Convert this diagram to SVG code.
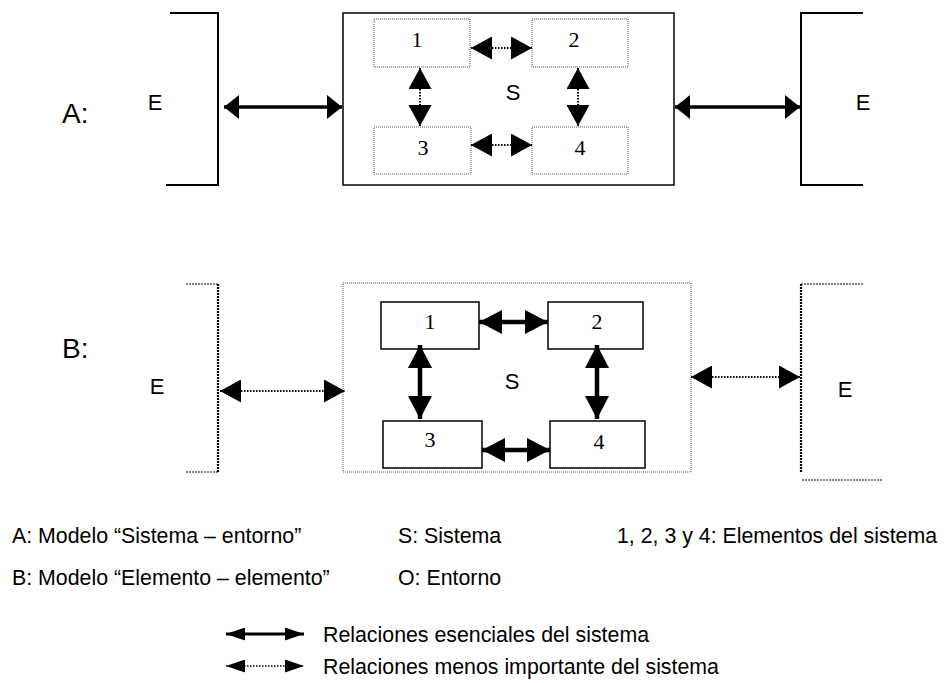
<svg xmlns="http://www.w3.org/2000/svg" width="944" height="683" viewBox="0 0 944 683">
<style>
text{font-family:"Liberation Sans",Arial,sans-serif;fill:#000}
.num{font-family:"Liberation Serif","Times New Roman",serif;font-size:22px;text-anchor:middle}
.lbl{font-size:22px;text-anchor:middle}
.big{font-size:28px}
.cap{font-size:21.33px}
.solid{fill:none;stroke:#000;stroke-width:2}
.thinbox{fill:#fff;stroke:#000;stroke-width:1.5}
.dotbox{fill:#fff;stroke:#555;stroke-width:1;stroke-dasharray:1 1}
.dotbr{fill:none;stroke:#000;stroke-width:2.2;stroke-dasharray:2 1}
.dotbrh{fill:none;stroke:#000;stroke-width:1.2;stroke-dasharray:2 1}
.thick{stroke:#000;stroke-width:3.5;fill:none}
.thick2{stroke:#000;stroke-width:4.5;fill:none}
.thin3{stroke:#000;stroke-width:3;fill:none}
.dots{stroke:#000;stroke-width:2;stroke-dasharray:1.5 1.5;fill:none}
.dots1{stroke:#000;stroke-width:1.5;stroke-dasharray:1.5 1.5;fill:none}
</style>
<defs>
<marker id="hs" markerUnits="userSpaceOnUse" markerWidth="15" markerHeight="24" refX="15" refY="12" orient="auto-start-reverse"><path d="M0,0 L15,12 L0,24 Z" fill="#000"/></marker>
<marker id="hm" markerUnits="userSpaceOnUse" markerWidth="21" markerHeight="23" refX="21" refY="11.5" orient="auto-start-reverse"><path d="M0,0 L21,11.5 L0,23 Z" fill="#000"/></marker>
<marker id="hl" markerUnits="userSpaceOnUse" markerWidth="23" markerHeight="24" refX="23" refY="12" orient="auto-start-reverse"><path d="M0,0 L23,12 L0,24 Z" fill="#000"/></marker>
<marker id="hg" markerUnits="userSpaceOnUse" markerWidth="19" markerHeight="13" refX="19" refY="6.5" orient="auto-start-reverse"><path d="M0,0 L19,6.5 L0,13 Z" fill="#000"/></marker>
</defs>

<text class="big" x="62" y="123">A:</text>
<text class="big" x="62" y="358">B:</text>

<!-- Model A -->
<g id="a-env-left"><path class="solid" d="M170,13 H218 V185 H166"/><text class="lbl" x="155" y="110">E</text></g>
<g id="a-env-right"><path class="solid" d="M863,13 H801 V185 H863"/><text class="lbl" x="863" y="110">E</text></g>
<g id="a-system"><rect class="thinbox" x="343" y="13" width="331" height="172"/><text class="lbl" x="513" y="100">S</text></g>
<g id="a-e1"><rect class="dotbox" x="374" y="19" width="96" height="48"/><text class="num" x="417" y="47">1</text></g>
<g id="a-e2"><rect class="dotbox" x="532" y="19" width="96" height="48"/><text class="num" x="574" y="47">2</text></g>
<g id="a-e3"><rect class="dotbox" x="374" y="127" width="97" height="47"/><text class="num" x="423" y="155">3</text></g>
<g id="a-e4"><rect class="dotbox" x="532" y="127" width="96" height="47"/><text class="num" x="580" y="155">4</text></g>

<!-- Model B -->
<g id="b-env-left"><path class="dotbrh" d="M186,284 H218"/><path class="dotbr" d="M218,284 V472"/><path class="dotbrh" d="M218,472 H186"/><text class="lbl" x="157" y="394">E</text></g>
<g id="b-env-right"><path class="dotbrh" d="M863,284 H801"/><path class="dotbr" d="M801,284 V472"/><path class="dotbrh" d="M802,480 H882"/><text class="lbl" x="845" y="397">E</text></g>
<g id="b-system"><rect class="dotbox" x="343" y="283" width="348" height="189"/><text class="lbl" x="512" y="389">S</text></g>
<g id="b-e1"><rect class="thinbox" x="381" y="302" width="98" height="47"/><text class="num" x="430" y="329">1</text></g>
<g id="b-e2"><rect class="thinbox" x="548" y="302" width="95" height="47"/><text class="num" x="597" y="329">2</text></g>
<g id="b-e3"><rect class="thinbox" x="383" y="421" width="99" height="47"/><text class="num" x="430" y="447">3</text></g>
<g id="b-e4"><rect class="thinbox" x="550" y="421" width="95" height="47"/><text class="num" x="599" y="449">4</text></g>

<g id="connectors">
<line class="thick" x1="224" y1="107" x2="342" y2="107" marker-start="url(#hs)" marker-end="url(#hs)"/>
<line class="thick" x1="675" y1="107" x2="800" y2="107" marker-start="url(#hs)" marker-end="url(#hs)"/>
<line class="dots" x1="471" y1="48" x2="532" y2="48" marker-start="url(#hm)" marker-end="url(#hm)"/>
<line class="dots" x1="471" y1="145" x2="532" y2="145" marker-start="url(#hm)" marker-end="url(#hm)"/>
<line class="dots" x1="420" y1="68" x2="420" y2="126" marker-start="url(#hm)" marker-end="url(#hm)"/>
<line class="dots" x1="578" y1="68" x2="578" y2="126" marker-start="url(#hm)" marker-end="url(#hm)"/>

<line class="dots" x1="220" y1="391" x2="345" y2="391" marker-start="url(#hm)" marker-end="url(#hm)"/>
<line class="dots" x1="691" y1="377" x2="800" y2="377" marker-start="url(#hm)" marker-end="url(#hm)"/>
<line class="thick2" x1="479" y1="322" x2="548" y2="322" marker-start="url(#hl)" marker-end="url(#hl)"/>
<line class="thick2" x1="482" y1="450" x2="550" y2="450" marker-start="url(#hl)" marker-end="url(#hl)"/>
<line class="thick2" x1="420" y1="345" x2="420" y2="419" marker-start="url(#hl)" marker-end="url(#hl)"/>
<line class="thick2" x1="597" y1="345" x2="597" y2="419" marker-start="url(#hl)" marker-end="url(#hl)"/>
</g>

<g id="legend">
<text class="cap" x="12" y="543">A: Modelo “Sistema – entorno”</text>
<text class="cap" x="398" y="543">S: Sistema</text>
<text class="cap" x="617" y="543">1, 2, 3 y 4: Elementos del sistema</text>
<text class="cap" x="12" y="585">B: Modelo “Elemento – elemento”</text>
<text class="cap" x="398" y="585">O: Entorno</text>
<line class="thin3" x1="226" y1="634" x2="304" y2="634" marker-start="url(#hg)" marker-end="url(#hg)"/>
<line class="dots1" x1="226" y1="666" x2="304" y2="666" marker-start="url(#hg)" marker-end="url(#hg)"/>
<text class="cap" x="323" y="642">Relaciones esenciales del sistema</text>
<text class="cap" x="323" y="674">Relaciones menos importante del sistema</text>
</g>
</svg>
